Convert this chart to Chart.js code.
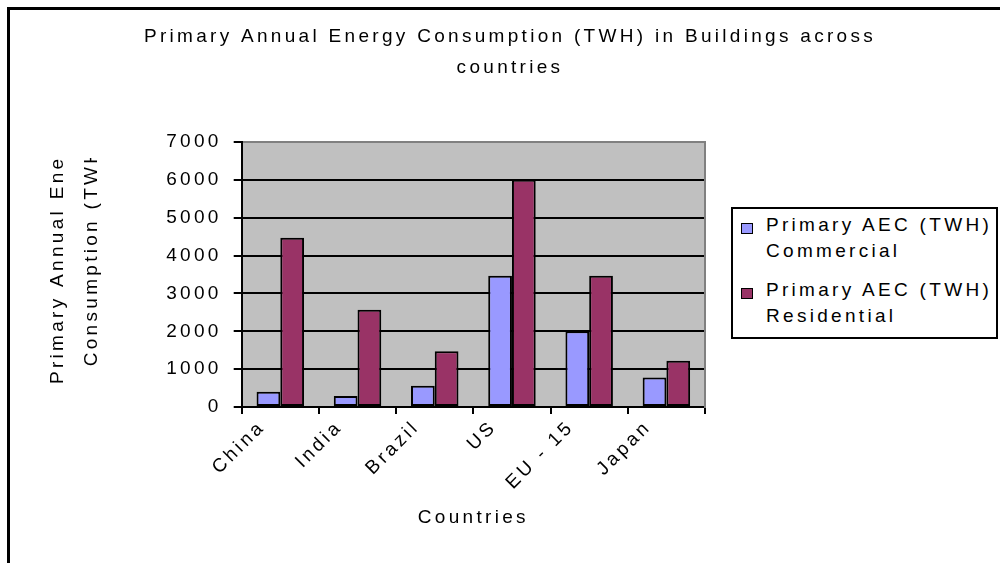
<!DOCTYPE html>
<html>
<head>
<meta charset="utf-8">
<script src="https://cdn.jsdelivr.net/npm/chart.js@4.4.1/dist/chart.umd.min.js"></script>
<style>
  html, body { margin: 0; padding: 0; background: #fff; overflow: hidden; }
  #frame { position: absolute; left: 7px; top: 7px; width: 1100px; height: 700px;
           border-left: 3px solid #000; border-top: 3px solid #000; }
  #wrap { position: absolute; left: 0; top: 0; width: 1000px; height: 563px; }
  #legend { position: absolute; left: 731px; top: 207px; width: 267px; height: 132px;
            box-sizing: border-box; border: 2px solid #000; background: #fff;
            font: 19px "Liberation Sans", Arial, sans-serif; letter-spacing: 3.3px; color: #000; }
  .sw { position: absolute; left: 8px; width: 12px; height: 11px; box-sizing: border-box; border: 1.5px solid #000; }
  .lt { position: absolute; left: 33px; line-height: 26px; white-space: nowrap; }
</style>
</head>
<body>
<div id="frame"></div>
<div id="wrap"><canvas id="c" width="1000" height="563"></canvas></div>
<div id="legend"></div>
<script>
// ── Data ──────────────────────────────────────────────────────────────────────
const categories  = ["China", "India", "Brazil", "US", "EU - 15", "Japan"];
const commercial  = [400, 290, 560, 3470, 2000, 780];
const residential = [4470, 2570, 1470, 6000, 3470, 1220];
const seriesNames = ["Primary AEC (TWH) Commercial", "Primary AEC (TWH) Residential"];
const seriesColors = ["#9999FF", "#993366"];
const yTicks = [0, 1000, 2000, 3000, 4000, 5000, 6000, 7000];
const titleLines  = ["Primary Annual Energy Consumption (TWH) in Buildings across", "countries"];
const yTitleLines = ["Primary Annual Energy", "Consumption (TWH)"];
const xTitle = "Countries";

const FONT = '"Liberation Sans", Arial, sans-serif';
const SPACING = "3.3px";
Chart.defaults.font.family = FONT;
Chart.defaults.font.size = 19;
Chart.defaults.color = "#000";

// ── Plugins ───────────────────────────────────────────────────────────────────
const spacing = {
  id: "spacing",
  beforeUpdate(c) { c.ctx.letterSpacing = SPACING; },
  beforeLayout(c) { c.ctx.letterSpacing = SPACING; },
  beforeDraw(c)   { c.ctx.letterSpacing = SPACING; }
};

const plotBg = {
  id: "plotBg",
  beforeDraw(c) {
    const a = c.chartArea, ctx = c.ctx;
    ctx.save();
    ctx.fillStyle = "#C0C0C0";
    ctx.fillRect(a.left, a.top, a.right - a.left, a.bottom - a.top);
    ctx.restore();
  }
};

// y title is clipped at the top, as in the source picture
const yTitle = {
  id: "yTitle",
  afterDraw(c) {
    const ctx = c.ctx;
    ctx.save();
    ctx.beginPath();
    ctx.rect(0, 158, 230, 563 - 158);
    ctx.clip();
    ctx.font = "19px " + FONT;
    ctx.fillStyle = "#000";
    ctx.textAlign = "center";
    ctx.textBaseline = "alphabetic";
    const w = ctx.measureText(yTitleLines[0]).width;
    ctx.translate(63, 384 - w / 2);
    ctx.rotate(-Math.PI / 2);
    yTitleLines.forEach((t, i) => ctx.fillText(t, 0, i * 34));
    ctx.restore();
  }
};

// ── Chart ─────────────────────────────────────────────────────────────────────
const chart = new Chart(document.getElementById("c"), {
  type: "bar",
  data: {
    labels: categories,
    datasets: [commercial, residential].map((d, i) => ({
      label: seriesNames[i],
      data: d,
      backgroundColor: seriesColors[i],
      borderColor: "#000",
      borderWidth: 2,
      borderSkipped: false,
      categoryPercentage: 0.615,
      barPercentage: 1.0
    }))
  },
  options: {
    responsive: false,
    animation: false,
    layout: { padding: { left: 20, right: 0, top: 0, bottom: 30 } },
    plugins: {
      legend: { display: false },
      tooltip: { enabled: false },
      title: {
        display: true,
        text: titleLines,
        color: "#000",
        font: { size: 19, weight: "normal", lineHeight: 31 / 19 },
        padding: { top: 21.5, bottom: 58.5 }
      }
    },
    scales: {
      x: {
        offset: true,
        grid: { display: true, drawOnChartArea: false, drawTicks: true, tickLength: 7,
                color: "#000", lineWidth: 2, offset: true },
        border: { display: true, color: "#000", width: 2 },
        ticks: { autoSkip: false, minRotation: 45, maxRotation: 45, padding: 2,
                 labelOffset: -18, color: "#000" },
        title: { display: true, text: xTitle, color: "#000",
                 padding: { top: 0, bottom: 4 } },
        afterFit: s => { s.height = 126; }
      },
      y: {
        min: 0, max: 7000,
        afterBuildTicks: s => { s.ticks = yTicks.map(v => ({ value: v })); },
        grid: { color: ctx => (ctx.tick && ctx.tick.value === 7000 ? "#808080" : "#000"),
                tickColor: "#000", lineWidth: 2, tickLength: 8 },
        border: { display: true, color: "#000", width: 2 },
        ticks: { padding: 12, color: "#000", callback: v => String(v) },
        afterFit: s => { s.width = 221.7; }
      },
      // empty right-hand box: leaves room for the legend and draws the plot's right edge
      y2: {
        type: "linear", position: "right", display: true,
        grid: { display: false, drawOnChartArea: false },
        ticks: { display: false },
        border: { display: true, color: "#808080", width: 2 },
        afterFit: s => { s.width = 295; }
      }
    }
  },
  plugins: [spacing, plotBg, yTitle]
});

// ── Legend (built from the chart's datasets) ──────────────────────────────────
const legend = document.getElementById("legend");
chart.data.datasets.forEach((ds, i) => {
  const top = 3 + i * 65;
  const sw = document.createElement("div");
  sw.className = "sw";
  sw.style.top = (top + 11) + "px";
  sw.style.background = ds.backgroundColor;
  legend.appendChild(sw);
  const cut = ds.label.lastIndexOf(" ");
  const lt = document.createElement("div");
  lt.className = "lt";
  lt.style.top = top + "px";
  lt.innerHTML = ds.label.slice(0, cut) + "<br>" + ds.label.slice(cut + 1);
  legend.appendChild(lt);
});
</script>
</body>
</html>
